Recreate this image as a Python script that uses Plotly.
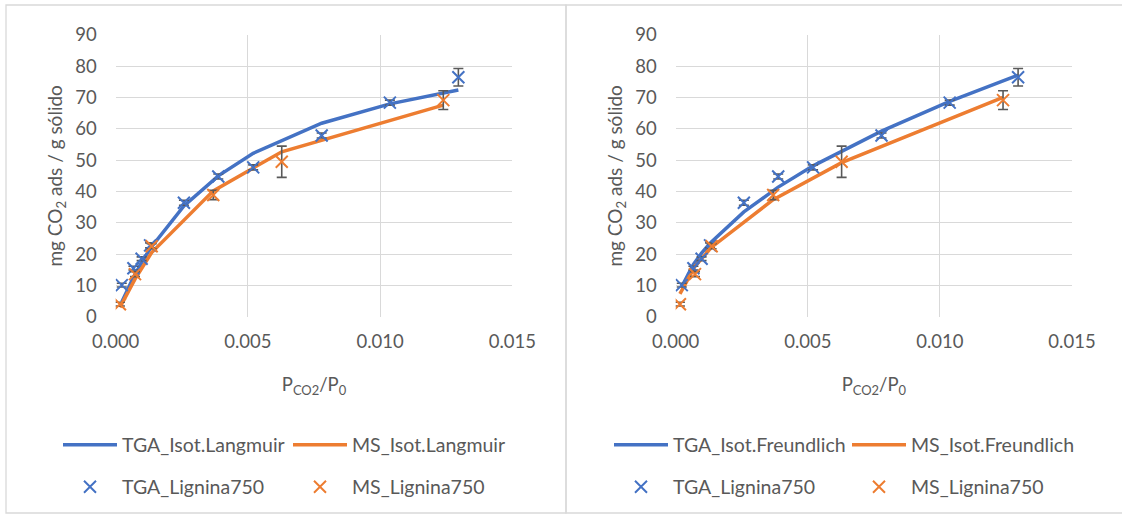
import plotly.graph_objects as go

# Relative pressure of the measured points
p_tga = [0.00023, 0.00067, 0.00098, 0.00130, 0.00258, 0.00388, 0.00520, 0.00779, 0.01037, 0.01296]
p_ms = [0.00016, 0.00073, 0.00136, 0.00369, 0.00628, 0.01239]

# Measured uptake (mg CO2 / g) and standard deviation
q_tga = [10.1, 15.5, 18.5, 22.8, 36.4, 44.8, 47.7, 57.9, 68.4, 76.5]
err_tga = [0.6, 0.6, 0.6, 0.8, 0.8, 0.8, 0.8, 0.8, 0.8, 2.8]
q_ms = [4.0, 13.6, 22.5, 38.9, 49.5, 69.2]
err_ms = [0.6, 0.8, 0.8, 1.5, 5.0, 3.0]

# Fitted isotherm values at the same pressures
lang_tga = [4.7, 12.6, 17.3, 21.7, 35.4, 45.0, 52.2, 61.8, 68.0, 72.4]
lang_ms = [3.0, 12.0, 20.5, 40.2, 52.7, 67.6]
freu_tga = [9.6, 16.7, 20.3, 23.5, 33.5, 41.4, 48.2, 59.3, 68.8, 77.2]
freu_ms = [7.3, 16.1, 22.2, 37.4, 49.2, 70.1]

x_ticks = [0.000, 0.005, 0.010, 0.015]
y_ticks = [0, 10, 20, 30, 40, 50, 60, 70, 80, 90]

BLUE = "#4472C4"
ORANGE = "#ED7D31"
GREY = "#595959"
GRID = "#D9D9D9"
FONT = "Lato, Calibri, sans-serif"

W, H = 1122, 515


def px(x):
    return x / W


def py(y):
    return 1 - y / H


fig = go.Figure()

panels = [
    ("x", "y", lang_tga, lang_ms, "TGA_Isot.Langmuir", "MS_Isot.Langmuir", "legend", "legend2"),
    ("x2", "y2", freu_tga, freu_ms, "TGA_Isot.Freundlich", "MS_Isot.Freundlich", "legend3", "legend4"),
]

for xa, ya, fit_t, fit_m, name_t, name_m, leg_lines, leg_pts in panels:
    fig.add_trace(go.Scatter(
        x=p_tga, y=fit_t, mode="lines", name=name_t, xaxis=xa, yaxis=ya,
        line=dict(color=BLUE, width=3.5), legend=leg_lines))
    fig.add_trace(go.Scatter(
        x=p_ms, y=fit_m, mode="lines", name=name_m, xaxis=xa, yaxis=ya,
        line=dict(color=ORANGE, width=3.5), legend=leg_lines))
    fig.add_trace(go.Scatter(
        x=p_tga, y=q_tga, mode="markers", name="TGA_Lignina750", xaxis=xa, yaxis=ya,
        marker=dict(symbol="x-thin", size=12, line=dict(color=BLUE, width=2)),
        error_y=dict(type="data", array=err_tga, color=GREY, thickness=1.6, width=5),
        legend=leg_pts))
    fig.add_trace(go.Scatter(
        x=p_ms, y=q_ms, mode="markers", name="MS_Lignina750", xaxis=xa, yaxis=ya,
        marker=dict(symbol="x-thin", size=12, line=dict(color=ORANGE, width=2)),
        error_y=dict(type="data", array=err_ms, color=GREY, thickness=1.6, width=5),
        legend=leg_pts))

xaxis_common = dict(
    range=[0, 0.015], tickvals=x_ticks, tickformat=".3f", automargin=False,
    showgrid=True, gridcolor=GRID, gridwidth=1.3, zeroline=False, showline=False,
    tickfont=dict(family=FONT, size=18.5, color=GREY), ticks="", ticklabelstandoff=12,
    title=dict(text="P<sub>CO2</sub>/P<sub>0</sub>", font=dict(family=FONT, size=18.5, color=GREY),
               standoff=26),
)
yaxis_common = dict(
    range=[0, 90], tickvals=y_ticks, automargin=False,
    showgrid=True, gridcolor=GRID, gridwidth=1.3, zeroline=False, showline=False,
    tickfont=dict(family=FONT, size=18.5, color=GREY), ticks="", ticklabelstandoff=18,
    title=dict(text="mg CO<sub>2</sub> ads / g sólido", font=dict(family=FONT, size=19, color=GREY),
               standoff=7),
    domain=[py(316.7), py(35)],
)

# legend rows: fitted curves on the first row, measured points on the second
legend_common = dict(
    orientation="h", xanchor="left", yanchor="middle", bgcolor="rgba(0,0,0,0)",
    font=dict(family=FONT, size=19.5, color=GREY), itemwidth=54,
    entrywidthmode="pixels", itemclick=False, itemdoubleclick=False,
)

fig.update_layout(
    width=W, height=H,
    margin=dict(l=0, r=0, t=0, b=0, autoexpand=False),
    paper_bgcolor="white", plot_bgcolor="white",
    showlegend=True,
    xaxis=dict(xaxis_common, domain=[px(115.7), px(512.3)], anchor="y"),
    yaxis=dict(yaxis_common, anchor="x"),
    xaxis2=dict(xaxis_common, domain=[px(675.7), px(1072)], anchor="y2"),
    yaxis2=dict(yaxis_common, anchor="x2"),
    legend=dict(legend_common, x=px(58), y=py(445), entrywidth=161),
    legend2=dict(legend_common, x=px(58), y=py(487), entrywidth=161),
    legend3=dict(legend_common, x=px(609), y=py(445), entrywidth=169),
    legend4=dict(legend_common, x=px(609), y=py(487), entrywidth=169),
    shapes=[
        dict(type="rect", xref="paper", yref="paper",
             x0=px(6), x1=px(566), y0=py(513), y1=py(5),
             line=dict(color=GRID, width=1.3)),
        dict(type="rect", xref="paper", yref="paper",
             x0=px(566), x1=px(1130), y0=py(513), y1=py(5),
             line=dict(color=GRID, width=1.3)),
    ],
)

fig.write_html("out.html")
